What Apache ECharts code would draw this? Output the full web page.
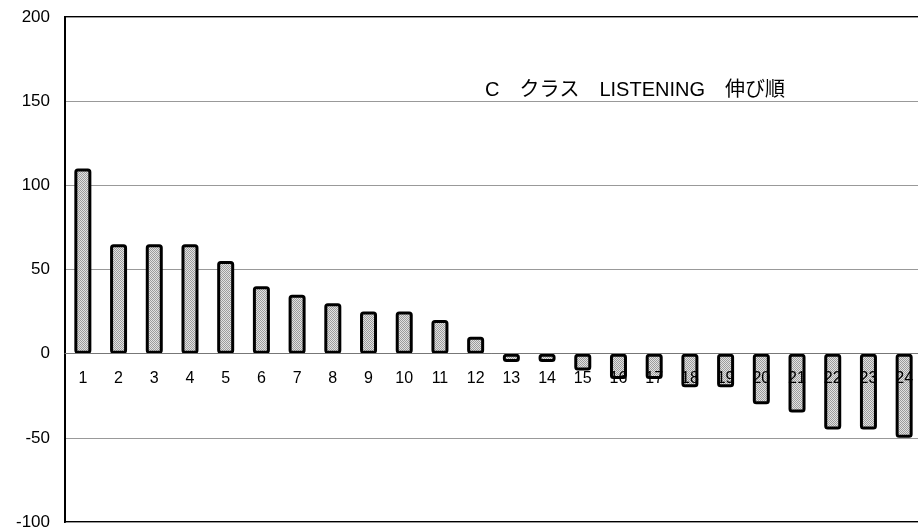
<!DOCTYPE html>
<html>
<head>
<meta charset="utf-8">
<script src="https://cdn.jsdelivr.net/npm/echarts@6/dist/echarts.min.js"></script>
<style>
  html, body { margin: 0; padding: 0; background: #fff; }
  #chart { width: 918px; height: 530px; }
</style>
</head>
<body>
<div id="chart"></div>
<script>
// Students ranked by gain in listening score
const students = ['1','2','3','4','5','6','7','8','9','10','11','12','13','14','15','16','17','18','19','20','21','22','23','24'];
const gains = [110, 65, 65, 65, 55, 40, 35, 30, 25, 25, 20, 10, -5, -5, -10, -15, -15, -20, -20, -30, -35, -45, -45, -50];
const yTicks = { min: -100, max: 200, interval: 50 };
const titleText = 'C\u3000クラス\u3000LISTENING\u3000伸び順';

const GRID_TOP = 17, GRID_HEIGHT = 505;
// distance from the bottom edge of the plot up to the zero line
const zeroOffset = GRID_HEIGHT * (0 - yTicks.min) / (yTicks.max - yTicks.min);

// Dithered gray fill for the bars
function stipple() {
  const c = document.createElement('canvas');
  c.width = 2; c.height = 2;
  const g = c.getContext('2d');
  g.fillStyle = '#e2e2e2'; g.fillRect(0, 0, 2, 2);
  g.fillStyle = '#9c9c9c';
  g.fillRect(0, 0, 1, 1);
  g.fillRect(1, 1, 1, 1);
  return c;
}

const chart = echarts.init(document.getElementById('chart'), null, { renderer: 'canvas' });
chart.setOption({
  animation: false,
  backgroundColor: '#fff',
  title: {
    text: titleText,
    left: 480,
    top: 75,
    textStyle: { fontFamily: '"Liberation Sans", "Noto Sans CJK JP", sans-serif', fontSize: 20, fontWeight: 'normal', color: '#000' }
  },
  grid: {
    left: 65, top: GRID_TOP, width: 857, height: GRID_HEIGHT,
    outerBoundsMode: 'none',
    containLabel: false,
    show: true, borderColor: '#000', borderWidth: 2, backgroundColor: 'transparent'
  },
  xAxis: {
    type: 'category',
    data: students,
    position: 'bottom',
    offset: -zeroOffset,
    axisLine: { onZero: false, lineStyle: { color: '#777', width: 1 } },
    axisTick: { inside: true, length: 4, lineStyle: { color: '#666' } },
    axisLabel: { margin: 17, fontFamily: '"Liberation Sans", Arial, sans-serif', fontSize: 16, color: '#000' },
    z: 5
  },
  yAxis: {
    type: 'value',
    min: yTicks.min, max: yTicks.max, interval: yTicks.interval,
    axisLine: { show: true, onZero: false, lineStyle: { color: '#000', width: 2 } },
    axisTick: { show: false },
    splitLine: { lineStyle: { color: '#999', width: 1 } },
    axisLabel: { margin: 15, fontFamily: '"Liberation Sans", Arial, sans-serif', fontSize: 17, color: '#000' }
  },
  series: [{
    type: 'bar',
    data: gains,
    barWidth: 17,
    z: 3,
    itemStyle: {
      color: { image: stipple(), repeat: 'repeat' },
      borderColor: '#000',
      borderWidth: 3,
      borderRadius: 2
    }
  }]
});
</script>
</body>
</html>
